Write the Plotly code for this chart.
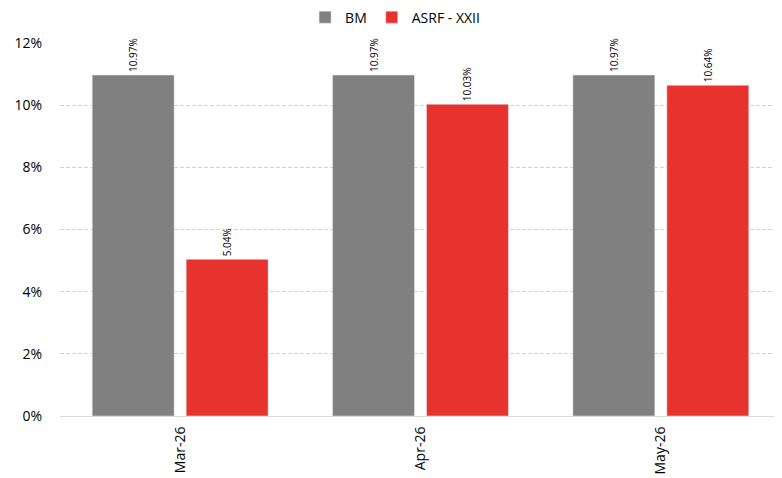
import plotly.graph_objects as go

categories = ["Mar-26", "Apr-26", "May-26"]
bm_values = [10.97, 10.97, 10.97]
asrf_values = [5.04, 10.03, 10.64]
series_names = ["BM", "ASRF - XXII"]
tick_vals = [0, 2, 4, 6, 8, 10, 12]
tick_text = ["0%", "2%", "4%", "6%", "8%", "10%", "12%"]

font_family = "Open Sans, Noto Sans, sans-serif"

fig = go.Figure()
fig.add_trace(go.Bar(
    x=categories, y=bm_values, name=series_names[0],
    marker_color="#808080",
    text=[f"{v:.2f}%" for v in bm_values],
    textposition="outside", textangle=-90,
    textfont=dict(size=10, color="#000000", family=font_family),
    cliponaxis=False, constraintext="none",
))
fig.add_trace(go.Bar(
    x=categories, y=asrf_values, name=series_names[1],
    marker_color="#E8322D",
    text=[f"{v:.2f}%" for v in asrf_values],
    textposition="outside", textangle=-90,
    textfont=dict(size=10, color="#000000", family=font_family),
    cliponaxis=False, constraintext="none",
))

fig.update_layout(
    width=782, height=478,
    margin=dict(l=52, r=9, t=35, b=70, autoexpand=False),
    paper_bgcolor="white", plot_bgcolor="white",
    barmode="group", bargap=0.218, bargroupgap=0.128,
    font=dict(family=font_family, size=14, color="#000000"),
    legend=dict(orientation="h", x=0.495, xanchor="center", y=0.98, yanchor="middle",
                xref="container", yref="container",
                font=dict(size=14, color="#000000"), itemwidth=30,
                traceorder="normal", bgcolor="rgba(0,0,0,0)"),
    showlegend=True,
    uniformtext=dict(minsize=10, mode="show"),
)
fig.update_xaxes(
    tickangle=-90, showgrid=False, showline=True, linecolor="#d9d9d9", linewidth=1,
    ticks="outside", ticklen=4, tickcolor="rgba(0,0,0,0)", tickfont=dict(size=14),
    automargin=False,
)
fig.update_yaxes(
    range=[0, 12.001], tickvals=tick_vals, ticktext=tick_text,
    showgrid=True, gridcolor="#d4d4d4", griddash="4px,2px", gridwidth=1,
    zeroline=False, showline=False, ticks="outside", ticklen=14,
    tickcolor="rgba(0,0,0,0)", tickfont=dict(size=14), automargin=False,
)

fig.write_html("out.html")
